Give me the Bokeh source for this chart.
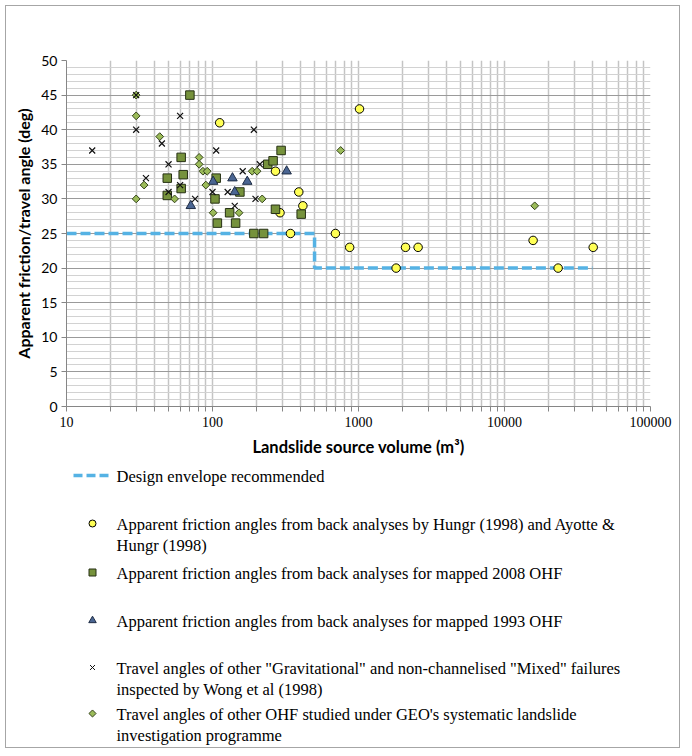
import numpy as np
from bokeh.plotting import figure
from bokeh.models import FixedTicker, Range1d
from bokeh.layouts import column
from bokeh.embed import file_html
from bokeh.resources import INLINE
from bokeh.core.properties import value

# ---------------- data ----------------
env_x = [10, 500, 500, 40000]
env_y = [25, 25, 20, 20]

hungr_x = [112, 270, 290, 342, 390, 416, 695, 870, 1016, 1810, 2100, 2560, 15700, 23300, 40500]
hungr_y = [41, 34, 28, 25, 31, 29, 25, 23, 43, 20, 23, 23, 24, 20, 23]

ohf08_x = [70, 49, 49, 61, 63, 61, 106, 104, 108, 144, 131, 154, 192, 224, 239, 260, 295, 270, 405]
ohf08_y = [45, 33, 30.5, 36, 33.5, 31.5, 33, 30, 26.5, 26.5, 28, 31, 25, 25, 35, 35.5, 37, 28.5, 27.8]

ohf93_x = [71, 101, 137, 142, 173, 322]
ohf93_y = [29, 32.5, 33, 31, 32.5, 34]

wong_x = [15, 30, 30, 45, 35, 50, 50, 60, 60, 76, 106, 100, 127, 142, 161, 192, 197, 211]
wong_y = [37, 40, 45, 38, 33, 35, 31, 42, 32, 30, 37, 31, 31, 29, 34, 40, 30, 35]

geo_x = [30, 30, 30, 43.5, 34, 55, 81, 81, 86, 92, 90, 101, 152, 187, 202, 219, 755, 16100]
geo_y = [45, 42, 30, 39, 32, 30, 36, 35, 34, 34, 32, 28, 28, 34, 34, 30, 37, 29]

x_ticks = [10, 100, 1000, 10000, 100000]
x_tick_labels = {10: "10", 100: "100", 1000: "1000", 10000: "10000", 100000: "100000"}
y_ticks = list(range(0, 51, 5))

legend_labels = [
    ["Design envelope recommended"],
    ["Apparent friction angles from back analyses by Hungr (1998) and Ayotte &", "Hungr (1998)"],
    ["Apparent friction angles from back analyses for mapped 2008 OHF"],
    ["Apparent friction angles from back analyses for mapped 1993 OHF"],
    ["Travel angles of other \"Gravitational\" and non-channelised \"Mixed\" failures", "inspected by Wong et al (1998)"],
    ["Travel angles of other OHF studied under GEO's systematic landslide", "investigation programme"],
]

# ---------------- styles ----------------
ENV_COLOR = "#55B2E4"
C_FILL, C_LINE = "#FFFF55", "#000000"
S_FILL, S_LINE = "#76923C", "#263014"
T_FILL, T_LINE = "#4A6592", "#1F2D45"
D_FILL, D_LINE = "#9BBB59", "#34431A"
X_LINE = "#111111"
SANS = "Lato"
SERIF = "Liberation Serif"

BL, BR = 60, 29          # left/right borders shared by both panels
FW = 584                 # frame width

# ---------------- main plot ----------------
p = figure(frame_width=FW, frame_height=346, x_axis_type="log",
           x_range=Range1d(10, 100000), y_range=Range1d(0, 50),
           output_backend="svg", toolbar_location=None,
           min_border_left=BL, min_border_right=BR, min_border_top=54, min_border_bottom=56,
           background_fill_color="white", border_fill_color="white")
p.outline_line_color = None

minor_x = [m * d for d in [10, 100, 1000, 10000] for m in range(2, 10)]
p.xaxis.ticker = FixedTicker(ticks=x_ticks, minor_ticks=minor_x)
p.yaxis.ticker = FixedTicker(ticks=y_ticks, minor_ticks=list(range(0, 51)))
p.xaxis.major_label_overrides = x_tick_labels

p.xgrid.grid_line_color = "#C4C4C4"
p.xgrid.grid_line_width = 1.5
p.xgrid.minor_grid_line_color = "#C4C4C4"
p.xgrid.minor_grid_line_width = 1.5
p.ygrid.grid_line_color = "#9A9A9A"
p.ygrid.grid_line_width = 1
p.ygrid.minor_grid_line_color = "#D2D2D2"
p.ygrid.minor_grid_line_width = 1

for ax in (p.xaxis, p.yaxis):
    ax.axis_line_color = "#868686"
    ax.major_tick_line_color = "#868686"
    ax.minor_tick_line_color = "#868686"
    ax.major_tick_in = 0
    ax.major_tick_out = 5
    ax.minor_tick_in = 0
    ax.major_label_text_color = "black"
    ax.axis_label_text_color = "black"
    ax.axis_label_text_font = SANS
    ax.axis_label_text_font_style = "bold"

p.xaxis.axis_label_text_font_size = "16.5px"
p.yaxis.axis_label_text_font_size = "16px"
p.xaxis.minor_tick_out = 5
p.yaxis.minor_tick_out = 0
p.xaxis.major_label_text_font = SERIF
p.xaxis.major_label_text_font_size = "14px"
p.xaxis.major_label_standoff = 5
p.yaxis.major_label_text_font = SANS
p.yaxis.major_label_text_font_size = "14px"
p.yaxis.major_label_standoff = 4
p.xaxis.axis_label = "Landslide source volume (m³)"
p.yaxis.axis_label = "Apparent friction/travel angle (deg)"
p.xaxis.axis_label_standoff = 7
p.yaxis.axis_label_standoff = 5

p.line(env_x, env_y, line_color=ENV_COLOR, line_width=3.5, line_dash="10 4")
p.scatter(hungr_x, hungr_y, marker="circle", size=8.5, fill_color=C_FILL, line_color=C_LINE, line_width=1)
p.scatter(ohf08_x, ohf08_y, marker="square", size=8.5, fill_color=S_FILL, line_color=S_LINE, line_width=1)
p.scatter(ohf93_x, ohf93_y, marker="triangle", size=9.5, fill_color=T_FILL, line_color=T_LINE, line_width=1)
p.scatter(geo_x, geo_y, marker="square", angle=np.pi / 4, size=5.5, fill_color=D_FILL, line_color=D_LINE, line_width=1)
p.scatter(wong_x, wong_y, marker="x", size=8.5, line_color=X_LINE, line_width=1.2)

# ---------------- legend panel (frame aligned with plot frame; x measured from plot's left edge) ----------------
L = figure(frame_width=FW, frame_height=285, x_range=Range1d(0, FW), y_range=Range1d(285, 0),
           x_axis_location=None, y_axis_location=None,
           min_border_left=BL, min_border_right=BR, min_border_top=0, min_border_bottom=0,
           output_backend="svg", toolbar_location=None,
           background_fill_color="white", border_fill_color="white")
L.outline_line_color = None
L.grid.visible = False

row_y = [13, 61, 110, 158, 205, 251]
line_gap = 21
key_x = 26
text_x = 50

L.line([7, 42], [row_y[0], row_y[0]], line_color=ENV_COLOR, line_width=3.5, line_dash="9 4")
L.scatter([key_x], [row_y[1]], marker="circle", size=7, fill_color=C_FILL, line_color=C_LINE)
L.scatter([key_x], [row_y[2]], marker="square", size=7, fill_color=S_FILL, line_color=S_LINE)
L.scatter([key_x], [row_y[3]], marker="triangle", size=7.5, fill_color=T_FILL, line_color=T_LINE)
L.scatter([key_x], [row_y[4]], marker="x", size=7, line_color=X_LINE)
L.scatter([key_x], [row_y[5]], marker="square", angle=np.pi / 4, size=5, fill_color=D_FILL, line_color=D_LINE)

tx, ty, tt = [], [], []
for ry, lines in zip(row_y, legend_labels):
    for i, s in enumerate(lines):
        tx.append(text_x)
        ty.append(ry + 1 + i * line_gap)
        tt.append(s)
L.text(x=tx, y=ty, text=tt, text_font=value(SERIF), text_font_size="16.5px",
       text_baseline="middle", text_align="left", text_color="black")

layout = column(p, L, styles={"border": "1px solid #A6A6A6", "margin-left": "5px", "margin-top": "5px"})
open("out.html", "w").write(file_html(layout, INLINE))
